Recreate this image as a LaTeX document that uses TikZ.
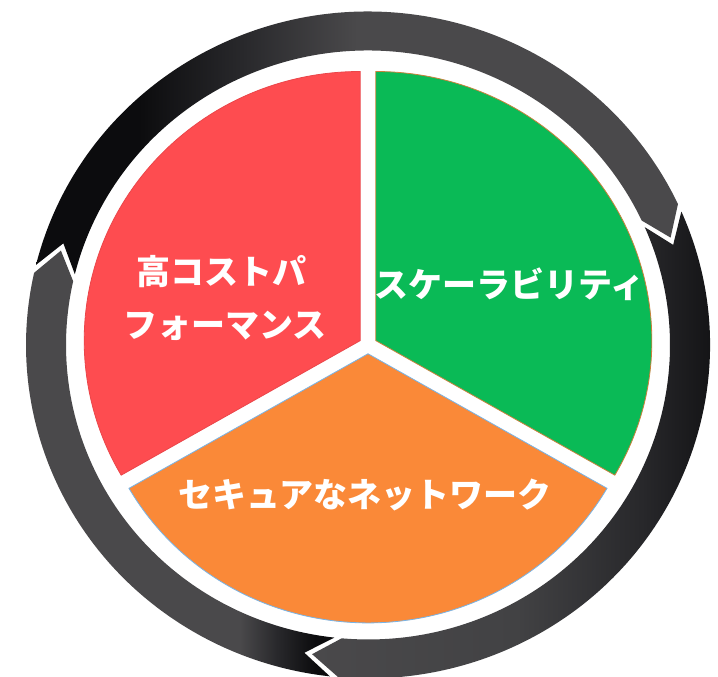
\documentclass[tikz,border=0pt]{standalone}
\usepackage{fontspec}
\newfontfamily\jpfont{Noto Sans CJK JP}
\definecolor{pred}{RGB}{254,76,80}
\definecolor{predline}{RGB}{235,70,74}
\definecolor{pgreen}{RGB}{10,186,86}
\definecolor{pgreenline}{RGB}{200,130,60}
\definecolor{porange}{RGB}{250,137,56}
\definecolor{porangeline}{RGB}{120,180,230}
\definecolor{rblack}{RGB}{12,12,14}
\definecolor{rmid}{RGB}{40,40,43}
\definecolor{rgray}{RGB}{74,73,75}
\definecolor{rgrayb}{RGB}{66,66,68}
\pgfdeclarehorizontalshading{topring}{100bp}{color(0bp)=(rblack); color(33bp)=(rblack); color(41bp)=(rmid); color(50bp)=(rgray); color(100bp)=(rgray)}
\pgfdeclarehorizontalshading{rightring}{100bp}{color(0bp)=(rgray); color(25bp)=(rgray); color(48bp)=(rgrayb); color(62bp)=(rmid); color(73bp)=(rblack); color(100bp)=(rblack)}
\pgfdeclarehorizontalshading{leftring}{100bp}{color(0bp)=(rgray); color(60bp)=(rgray); color(66bp)=(rmid); color(72bp)=(rblack); color(100bp)=(rblack)}
\newcommand\ringsegment[3]{%
  \path[shading=#3] (#1:342) arc[start angle=#1, end angle=#2, radius=342]
    -- ({#2-5}:322) -- (#2:302) arc[start angle=#2, end angle=#1, radius=302]
    -- ({#1-5}:322) -- cycle;}
\tikzset{
  label text/.style={text=white, font=\jpfont\bfseries\fontsize{34}{40}\selectfont, inner sep=0pt, anchor=base},
}
\begin{document}
\begin{tikzpicture}[x=1pt, y=1pt]
\useasboundingbox (0,0) rectangle (718,677);
\fill[white] (0,0) rectangle (718,677);
\begin{scope}[shift={(368,332)}, yscale=0.975]
  % ring arrows (clockwise)
  \ringsegment{166.1}{25}{topring}
  \ringsegment{23.6}{-95}{rightring}
  \ringsegment{-96.4}{-192.5}{leftring}
  % pie sectors
  \begin{scope}[shift={(150:9)}]
    \fill[pred, draw=predline, line width=0.8pt] (0,0) -- (90:276) arc[start angle=90, end angle=210, radius=276] -- cycle;
  \end{scope}
  \begin{scope}[shift={(30:9)}]
    \fill[pgreen, draw=pgreenline, line width=0.8pt] (0,0) -- (-30:276) arc[start angle=-30, end angle=90, radius=276] -- cycle;
  \end{scope}
  \begin{scope}[shift={(270:9)}]
    \fill[porange, draw=porangeline, line width=0.8pt] (0,0) -- (210:276) arc[start angle=210, end angle=330, radius=276] -- cycle;
  \end{scope}
\end{scope}
\node[label text] (red1) at (221,392) {高コストパ};
\node[label text] (red2) at (225,339) {フォーマンス};
\node[label text] (green) at (509,379) {スケーラビリティ};
\node[label text] (orange) at (365,169) {セキュアなネットワーク};
\end{tikzpicture}
\end{document}
